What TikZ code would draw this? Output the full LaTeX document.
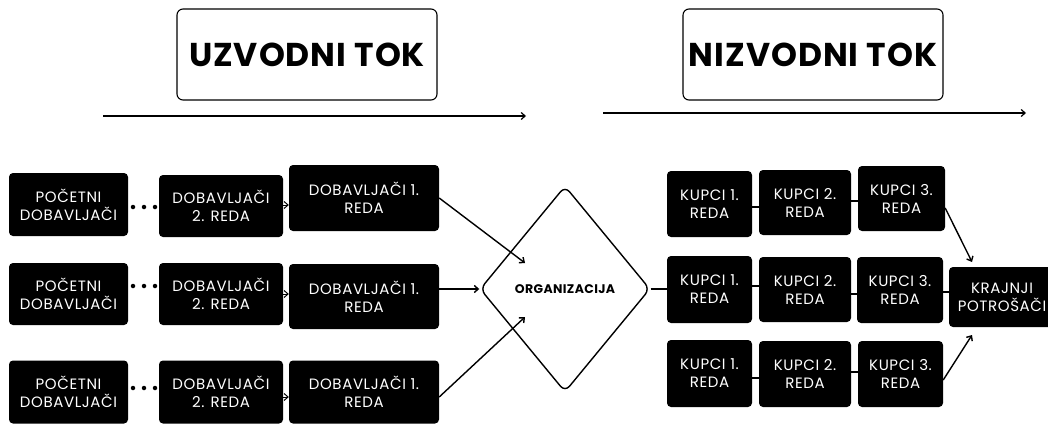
\documentclass[tikz,border=0pt]{standalone}
\usepackage{fontspec}
\setmainfont{Poppins}
\newfontfamily\boxfont[LetterSpace=4]{Poppins}
\newfontfamily\titlefont[LetterSpace=3]{Poppins}
\usetikzlibrary{shapes.geometric,arrows.meta}
\begin{document}
\begin{tikzpicture}[x=1pt,y=-1pt,
  bx/.style={fill=black, rounded corners=4pt, text=white, align=center, inner sep=0pt,
    font=\boxfont\fontsize{15}{18}\selectfont},
  ttl/.style={draw=black, line width=1.1pt, rounded corners=6pt, minimum width=260pt, minimum height=91pt,
    font=\titlefont\bfseries\fontsize{33}{36}\selectfont},
  con/.style={line width=1.4pt},
  arr/.style={line width=1.4pt, -{Straight Barb[length=4pt,width=7pt]}},
  dot/.style={circle, fill=black, inner sep=0pt, minimum size=4.5pt}
]
\useasboundingbox (0,0) rectangle (1048,423);
% titles
\node[ttl] (T1) at (307,54.5) {UZVODNI TOK};
\node[ttl] (T2) at (813,54.5) {NIZVODNI TOK};
\coordinate (a1s) at (103,116); \coordinate (a1e) at (526,116);
\coordinate (a2s) at (603,113); \coordinate (a2e) at (1026,113);
\draw[arr, line width=1.2pt] (a1s) -- (a1e);
\draw[arr, line width=1.2pt] (a2s) -- (a2e);
% left boxes
\node[bx, minimum width=119pt, minimum height=63pt] (P1) at (68.5,204.5) {POČETNI\\DOBAVLJAČI};
\node[bx, minimum width=124pt, minimum height=62pt] (B1) at (221,206) {DOBAVLJAČI\\2. REDA};
\node[bx, minimum width=150pt, minimum height=66pt] (C1) at (364,198) {DOBAVLJAČI 1.\\REDA};
\node[bx, minimum width=119pt, minimum height=62pt] (P2) at (68.5,294) {POČETNI\\DOBAVLJAČI};
\node[bx, minimum width=124pt, minimum height=62pt] (B2) at (221,294) {DOBAVLJAČI\\2. REDA};
\node[bx, minimum width=150pt, minimum height=65pt] (C2) at (364,296.5) {DOBAVLJAČI 1.\\REDA};
\node[bx, minimum width=119pt, minimum height=63pt] (P3) at (68.5,392) {POČETNI\\DOBAVLJAČI};
\node[bx, minimum width=124pt, minimum height=63pt] (B3) at (221,392) {DOBAVLJAČI\\2. REDA};
\node[bx, minimum width=150pt, minimum height=63pt] (C3) at (364,392) {DOBAVLJAČI 1.\\REDA};
% dots
\foreach \r/\y in {1/207,2/286,3/388}{
  \node[dot] (d\r a) at (133,\y) {};
  \node[dot] (d\r b) at (144,\y) {};
  \node[dot] (d\r c) at (155,\y) {};
}
% small arrows
\draw[arr, line width=1pt] (B1.east |- 0,205) -- (C1.west |- 0,205);
\draw[arr, line width=1pt] (B2.east |- 0,294) -- (C2.west |- 0,294);
\draw[arr, line width=1pt] (B3.east |- 0,397) -- (C3.west |- 0,397);
% diamond
\node[diamond, draw, line width=1.4pt, rounded corners=7pt, minimum width=170pt, minimum height=206pt, inner sep=0pt,
  font=\titlefont\bfseries\fontsize{12.5}{14}\selectfont] (O) at (565,289) {ORGANIZACIJA};
\coordinate (t1) at (525,263);
\coordinate (t3) at (525,317);
\draw[arr] (C1.east) -- (t1);
\draw[arr] (C2.east |- O.west) -- (O.west);
\draw[arr] (C3.east |- 0,397) -- (t3);
% right boxes
\node[bx, minimum width=85pt, minimum height=66pt] (K11) at (709.5,204) {KUPCI 1.\\REDA};
\node[bx, minimum width=92pt, minimum height=65pt] (K21) at (805,202.5) {KUPCI 2.\\REDA};
\node[bx, minimum width=87pt, minimum height=65pt] (K31) at (901.5,198.5) {KUPCI 3.\\REDA};
\node[bx, minimum width=85pt, minimum height=67pt] (K12) at (709.5,289.5) {KUPCI 1.\\REDA};
\node[bx, minimum width=92pt, minimum height=65pt] (K22) at (805,289.5) {KUPCI 2.\\REDA};
\node[bx, minimum width=86pt, minimum height=66pt] (K32) at (900,290) {KUPCI 3.\\REDA};
\node[bx, minimum width=85pt, minimum height=67pt] (K13) at (709.5,373.5) {KUPCI 1.\\REDA};
\node[bx, minimum width=92pt, minimum height=66pt] (K23) at (805,374) {KUPCI 2.\\REDA};
\node[bx, minimum width=85pt, minimum height=66pt] (K33) at (900.5,374) {KUPCI 3.\\REDA};
\node[bx, minimum width=106pt, minimum height=60pt, text width=106pt] (KP) at (1002,297) {KRAJNJI\\POTROŠAČI};
% right connectors
\draw[con] (O.east) -- (K12.west |- O.east);
\draw[con] (K11.east |- 0,207) -- (K21.west |- 0,207);
\draw[con] (K21.east |- 0,201) -- (K31.west |- 0,201);
\draw[con] (K12.east |- 0,286) -- (K22.west |- 0,286);
\draw[con] (K22.east |- 0,294) -- (K32.west |- 0,294);
\draw[con] (K32.east |- 0,292) -- (KP.west |- 0,292);
\draw[con] (K13.east |- 0,378) -- (K23.west |- 0,378);
\draw[con] (K23.east |- 0,372) -- (K33.west |- 0,372);
\coordinate (u1) at (972,262);
\coordinate (u3) at (972,335);
\draw[arr] (K31.east |- 0,208) -- (u1);
\draw[arr] (K33.east |- 0,380) -- (u3);
\end{tikzpicture}
\end{document}
